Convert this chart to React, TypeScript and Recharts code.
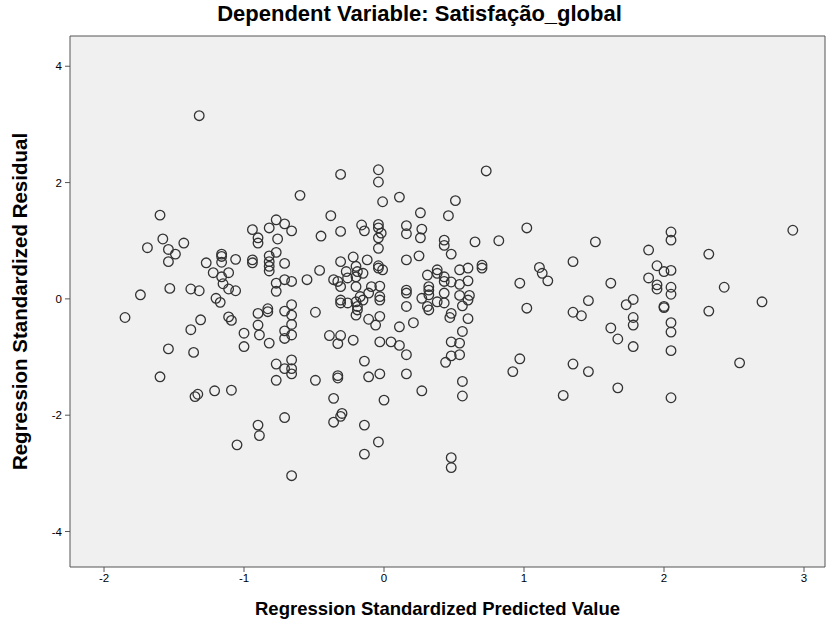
import {
  ScatterChart,
  Scatter,
  XAxis,
  YAxis,
  CartesianGrid,
  ReferenceLine,
} from "recharts";

const TITLE = "Dependent Variable: Satisfação_global";
const X_LABEL = "Regression Standardized Predicted Value";
const Y_LABEL = "Regression Standardized Residual";

const X_TICKS = [-2, -1, 0, 1, 2, 3];
const Y_TICKS = [-4, -2, 0, 2, 4];

const X_MIN = -2.243;
const X_MAX = 3.15;
const Y_MIN = -4.61;
const Y_MAX = 4.52;

// standardized predicted values
const PREDICTED = [
  -1.32, -1.6, -0.94, -0.9, -0.9, -1.58, -1.43, -1.69, -1.54, -1.49,
  -1.54, -1.16, -1.16, -1.06, -0.94, -0.94, -1.27, -1.16, -1.22, -1.11,
  -1.16, -1.15, -1.11, -1.06, -1.53, -1.38, -1.32, -1.74, -1.2, -1.17,
  -1.85, -1.31, -1.11, -1.09, -1.38, -0.9, -0.9, -0.89, -1.0, -1.0,
  -1.54, -1.36, -1.6, -1.35, -1.33, -1.21, -1.09, -0.9, -0.89, -1.05,
  -0.31, -0.04, -0.04, -0.6, -0.01, 0.11, -0.38, 0.26, -0.77, -0.71,
  -0.82, -0.66, -0.16, -0.14, -0.04, -0.04, -0.02, -0.04, -0.04, 0.16,
  0.16, 0.27, 0.26, -0.31, -0.45, -0.76, -0.82, -0.82, -0.82, -0.82,
  -0.77, -0.71, -0.77, -0.77, -0.71, -0.66, -0.55, -0.46, -0.31, -0.22,
  -0.12, -0.04, -0.04, -0.01, 0.16, 0.25, -0.27, -0.2, -0.19, -0.36,
  -0.33, -0.31, -0.26, -0.2, -0.2, -0.15, -0.09, -0.03, -0.11, -0.17,
  -0.31, -0.31, -0.26, -0.2, -0.19, -0.19, -0.2, -0.15, -0.03, -0.03,
  -0.11, -0.03, -0.06, 0.16, 0.16, 0.16, 0.27, 0.31, 0.31, 0.11,
  0.21, -0.83, -0.83, -0.71, -0.66, -0.66, -0.66, -0.66, -0.71, -0.71,
  -0.82, -0.49, -0.39, -0.31, -0.33, -0.22, -0.03, 0.05, 0.11, 0.16,
  -0.77, -0.66, -0.66, -0.66, -0.71, -0.77, -0.49, -0.33, -0.33, -0.36,
  -0.14, -0.11, -0.03, 0.16, 0.27, 0.0, -0.3, -0.31, -0.36, -0.14,
  -0.71, -0.04, -0.14, -0.66, 1.02, 0.43, 0.43, 0.48, 0.65, 0.82,
  1.51, 1.35, 0.7, 0.7, 0.54, 0.6, 0.38, 0.38, 0.43, 0.43,
  0.48, 0.54, 0.6, 1.11, 1.13, 1.17, 0.97, 0.32, 0.32, 0.32,
  0.43, 0.54, 0.61, 0.6, 0.38, 0.43, 0.32, 0.56, 0.48, 0.47,
  0.6, 1.02, 1.35, 1.41, 1.46, 0.56, 0.48, 0.54, 0.48, 0.54,
  0.44, 0.56, 0.56, 0.97, 0.92, 1.35, 1.46, 1.28, 0.48, 0.48,
  0.73, 0.51, 0.46, 2.05, 2.05, 2.92, 1.89, 2.32, 1.95, 2.0,
  2.05, 1.89, 1.95, 1.95, 2.05, 2.05, 1.62, 2.43, 1.73, 1.78,
  2.0, 2.0, 2.7, 2.32, 1.78, 1.78, 2.05, 2.05, 1.62, 1.67,
  1.78, 2.05, 1.67, 2.05, 2.54,
];

// standardized residuals
const RESIDUAL = [
  3.15, 1.44, 1.19, 1.05, 0.96, 1.03, 0.96, 0.88, 0.85, 0.77,
  0.64, 0.77, 0.73, 0.68, 0.67, 0.62, 0.62, 0.63, 0.45, 0.45,
  0.38, 0.26, 0.17, 0.14, 0.18, 0.17, 0.14, 0.07, 0.01, -0.06,
  -0.32, -0.36, -0.31, -0.37, -0.53, -0.25, -0.45, -0.62, -0.59, -0.82,
  -0.86, -0.92, -1.34, -1.68, -1.64, -1.58, -1.57, -2.17, -2.35, -2.51,
  2.14, 2.22, 2.01, 1.78, 1.67, 1.75, 1.43, 1.48, 1.36, 1.29,
  1.22, 1.17, 1.27, 1.17, 1.28, 1.22, 1.13, 1.05, 0.87, 1.26,
  1.12, 1.2, 1.05, 1.16, 1.08, 1.03, 0.74, 0.64, 0.56, 0.48,
  0.8, 0.61, 0.27, 0.13, 0.33, 0.3, 0.33, 0.49, 0.64, 0.72,
  0.67, 0.57, 0.53, 0.5, 0.67, 0.74, 0.47, 0.56, 0.47, 0.33,
  0.3, 0.21, 0.36, 0.38, 0.21, 0.44, 0.21, 0.22, 0.1, 0.04,
  -0.02, -0.07, -0.07, -0.05, -0.13, -0.19, -0.28, -0.02, 0.04, -0.02,
  -0.35, -0.3, -0.45, 0.15, 0.1, -0.13, 0.01, 0.41, -0.13, -0.48,
  -0.41, -0.17, -0.22, -0.21, -0.1, -0.28, -0.44, -0.62, -0.55, -0.68,
  -0.76, -0.23, -0.63, -0.63, -0.77, -0.71, -0.74, -0.74, -0.8, -0.96,
  -1.12, -1.05, -1.2, -1.29, -1.2, -1.4, -1.4, -1.32, -1.36, -1.71,
  -1.07, -1.34, -1.29, -1.29, -1.58, -1.74, -1.97, -2.02, -2.12, -2.17,
  -2.04, -2.46, -2.67, -3.04, 1.22, 1.01, 0.92, 0.77, 0.98, 1.0,
  0.98, 0.64, 0.58, 0.53, 0.5, 0.53, 0.5, 0.44, 0.38, 0.3,
  0.29, 0.25, 0.31, 0.54, 0.44, 0.31, 0.27, 0.21, 0.15, 0.07,
  0.1, 0.06, 0.06, -0.02, -0.05, -0.07, -0.19, -0.12, -0.25, -0.32,
  -0.34, -0.16, -0.23, -0.29, -0.03, -0.56, -0.74, -0.76, -0.98, -0.96,
  -1.09, -1.42, -1.67, -1.03, -1.25, -1.12, -1.25, -1.66, -2.73, -2.9,
  2.2, 1.69, 1.43, 1.15, 1.01, 1.18, 0.84, 0.77, 0.57, 0.47,
  0.49, 0.36, 0.24, 0.17, 0.2, 0.08, 0.27, 0.2, -0.1, -0.01,
  -0.13, -0.15, -0.05, -0.21, -0.32, -0.45, -0.41, -0.57, -0.5, -0.69,
  -0.82, -0.89, -1.53, -1.7, -1.1,
];

const data = PREDICTED.map((x, i) => ({
  predicted: x,
  residual: RESIDUAL[i],
}));

const FONT = "'Liberation Sans', Arial, sans-serif";

const OpenCircle = (props: any) => {
  const { cx, cy } = props;
  if (cx == null || cy == null) return null;
  return (
    <circle
      cx={cx}
      cy={cy}
      r={4.8}
      fill="none"
      stroke="#333333"
      strokeWidth={1.3}
    />
  );
};

const App = () => {
  return (
    <div
      style={{
        position: "absolute",
        left: 0,
        top: 0,
        width: 831,
        height: 627,
        background: "#ffffff",
        fontFamily: FONT,
      }}
    >
      <div
        style={{
          position: "absolute",
          left: 4,
          top: 1,
          width: 831,
          textAlign: "center",
          fontSize: 22,
          fontWeight: "bold",
          color: "#000",
        }}
      >
        {TITLE}
      </div>

      <ScatterChart
        width={831}
        height={627}
        margin={{ top: 36, right: 6, bottom: 0, left: 0 }}
      >
        <CartesianGrid
          horizontal={false}
          vertical={false}
          fill="#f0f0f0"
          fillOpacity={1}
        />
        <XAxis
          type="number"
          dataKey="predicted"
          domain={[X_MIN, X_MAX]}
          ticks={X_TICKS}
          allowDataOverflow
          height={60}
          tickSize={5}
          tickMargin={2}
          stroke="#555555"
          tick={{ fill: "#000", fontSize: 11.5, fontFamily: FONT }}
          label={{
            value: X_LABEL,
            position: "insideBottom",
            offset: 12,
            dx: -10,
            style: {
              fontSize: 18.5,
              fontWeight: "bold",
              fill: "#000",
              fontFamily: FONT,
            },
          }}
        />
        <YAxis
          type="number"
          dataKey="residual"
          domain={[Y_MIN, Y_MAX]}
          ticks={Y_TICKS}
          allowDataOverflow
          width={70}
          tickSize={5}
          tickMargin={3}
          stroke="#555555"
          tick={{ fill: "#000", fontSize: 11.5, fontFamily: FONT }}
          label={{
            value: Y_LABEL,
            angle: -90,
            position: "insideLeft",
            offset: 20,
            style: {
              textAnchor: "middle",
              fontSize: 20.5,
              fontWeight: "bold",
              fill: "#000",
              fontFamily: FONT,
            },
          }}
        />
        <ReferenceLine y={Y_MAX} stroke="#555555" />
        <ReferenceLine x={X_MAX} stroke="#555555" />
        <Scatter
          data={data}
          shape={OpenCircle}
          isAnimationActive={false}
        />
      </ScatterChart>
    </div>
  );
};

export default App;
